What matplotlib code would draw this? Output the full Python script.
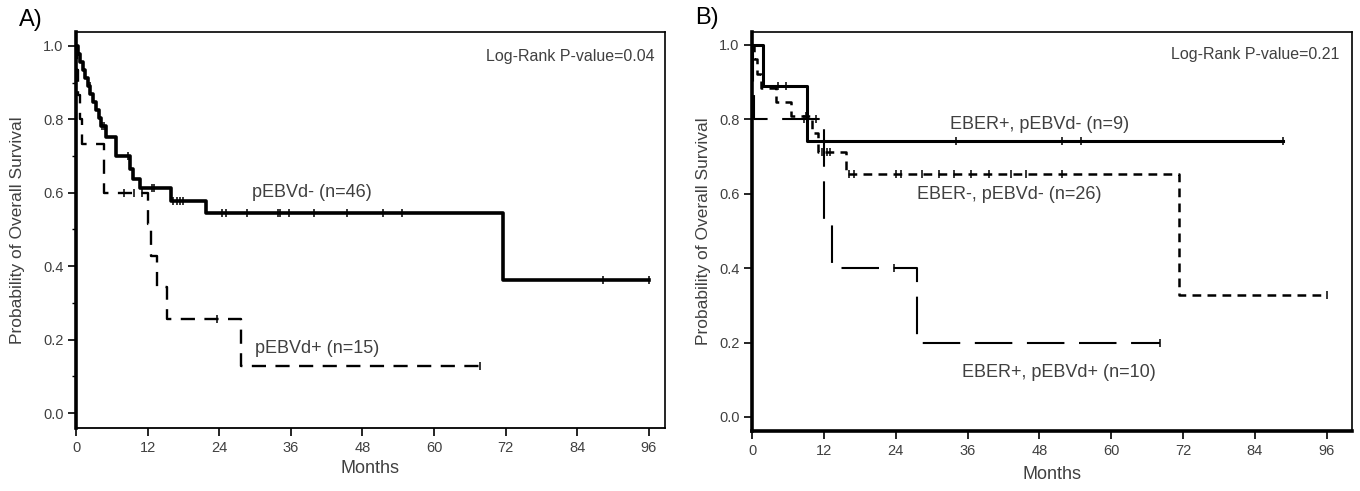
import matplotlib.pyplot as plt
import numpy as np

plt.rcParams['font.family'] = ['Liberation Sans', 'DejaVu Sans']

# ---- panel A: pEBVd- / pEBVd+ ----
a_neg_t = [0, 0.3, 0.7, 1.1, 1.5, 2.0, 2.4, 2.9, 3.3, 3.8, 4.2, 5.0, 6.7, 9.0, 9.5, 10.7, 16.0, 21.8, 71.5]
a_neg_s = [1.0, 0.978, 0.957, 0.935, 0.913, 0.891, 0.870, 0.848, 0.826, 0.804, 0.783, 0.752, 0.700,
           0.664, 0.638, 0.613, 0.578, 0.545, 0.363]
a_neg_end = 96.0
a_neg_cens = [2.3, 4.4, 4.7, 8.7, 12.7, 13.1, 16.3, 16.9, 17.4, 17.9, 24.4, 25.1, 28.6, 33.9, 34.2,
              35.7, 39.9, 45.4, 51.4, 54.6, 88.3, 96.0]

a_pos_t = [0, 0.2, 0.4, 0.6, 1.0, 4.7, 12.0, 12.5, 13.6, 15.2, 27.6]
a_pos_s = [1.0, 0.933, 0.867, 0.8, 0.733, 0.6, 0.514, 0.429, 0.343, 0.257, 0.129]
a_pos_end = 67.7
a_pos_cens = [8.0, 9.7, 11.1, 23.6, 67.7]

# ---- panel B: EBER / pEBVd groups ----
b1_t = [0, 1.9, 9.1]
b1_s = [1.0, 0.889, 0.741]
b1_end = 88.7
b1_cens = [4.3, 5.7, 34.1, 51.8, 54.9, 88.7]

b2_t = [0, 0.4, 0.9, 1.5, 4.0, 6.5, 10.0, 11.0, 15.7, 71.4]
b2_s = [1.0, 0.962, 0.923, 0.885, 0.846, 0.808, 0.763, 0.713, 0.654, 0.327]
b2_end = 96.1
b2_cens = [9.0, 11.7, 12.6, 13.1, 16.2, 17.1, 24.1, 24.9, 28.4, 31.3, 33.8, 36.6, 39.6, 43.3,
           45.8, 51.7, 96.1]

b3_t = [0, 0.2, 0.4, 12.0, 13.4, 27.6]
b3_s = [1.0, 0.9, 0.8, 0.533, 0.4, 0.2]
b3_end = 68.1
b3_cens = [8.6, 10.7, 23.7, 68.1]

month_ticks = np.arange(0, 97, 12)
surv_ticks = np.arange(0, 1.01, 0.2)
txt_col = '#404040'


def km(ax, t, s, end, cens, **kw):
    x = list(t) + [end]
    y = list(s) + [s[-1]]
    ax.step(x, y, where='post', color='k', **kw)
    idx = np.searchsorted(t, cens, side='right') - 1
    cy = np.array(s)[idx]
    ax.plot(cens, cy, ls='none', marker='|', ms=6, mew=1.1, color='k')


def style(ax, thick_bottom, ylab_x, xlab_y):
    for side in ['top', 'right']:
        ax.spines[side].set_linewidth(1.2)
    ax.spines['left'].set_linewidth(2.6)
    ax.spines['bottom'].set_linewidth(2.6 if thick_bottom else 1.3)
    ax.set_xticks(month_ticks)
    ax.set_yticks(surv_ticks)
    ax.set_yticklabels(['%.1f' % v for v in surv_ticks])
    ax.tick_params(direction='out', length=6, width=1.2, labelsize=10.5, labelcolor=txt_col, pad=3)
    ax.set_xlabel('Months', fontsize=13, color=txt_col)
    ax.set_ylabel('Probability of Overall Survival', fontsize=12.5, color=txt_col)
    ax.yaxis.set_label_coords(ylab_x, 0.5)
    ax.xaxis.set_label_coords(0.5, xlab_y)


fig = plt.figure(figsize=(13.6, 4.91), dpi=100)

# A
ax1 = fig.add_axes([0.0559, 0.128, 0.433, 0.807])
km(ax1, a_neg_t, a_neg_s, a_neg_end, a_neg_cens, lw=2.6)
km(ax1, a_pos_t, a_pos_s, a_pos_end, a_pos_cens, lw=1.7, dashes=(6, 4))
ax1.set_xlim(0, 98.7)
ax1.set_ylim(-0.041, 1.038)
style(ax1, False, -0.087, -0.081)
ax1.set_yticks(np.arange(0.1, 1.0, 0.2), minor=True)
ax1.tick_params(which='minor', direction='out', length=3, width=1)
ax1.text(29.5, 0.602, 'pEBVd- (n=46)', fontsize=13, color=txt_col, va='center')
ax1.text(30.0, 0.177, 'pEBVd+ (n=15)', fontsize=13, color=txt_col, va='center')
ax1.text(97, 0.97, 'Log-Rank P-value=0.04', fontsize=11.5, color=txt_col, ha='right', va='center')
fig.text(0.014, 0.959, 'A)', fontsize=17, va='center')

# B
ax2 = fig.add_axes([0.553, 0.122, 0.441, 0.813])
km(ax2, b1_t, b1_s, b1_end, b1_cens, lw=2.2)
km(ax2, b2_t, b2_s, b2_end, b2_cens, lw=1.8, dashes=(3.5, 2.5))
km(ax2, b3_t, b3_s, b3_end, b3_cens, lw=1.5, dashes=(18, 7))
ax2.set_xlim(0, 100.2)
ax2.set_ylim(-0.038, 1.035)
style(ax2, True, -0.068, -0.088)
ax2.text(33.0, 0.785, 'EBER+, pEBVd- (n=9)', fontsize=13, color=txt_col, va='center')
ax2.text(27.6, 0.597, 'EBER-, pEBVd- (n=26)', fontsize=13, color=txt_col, va='center')
ax2.text(35.0, 0.12, 'EBER+, pEBVd+ (n=10)', fontsize=13, color=txt_col, va='center')
ax2.text(98.2, 0.973, 'Log-Rank P-value=0.21', fontsize=11.5, color=txt_col, ha='right', va='center')
fig.text(0.511, 0.963, 'B)', fontsize=17, va='center')

fig.savefig('out.png', dpi=100)
